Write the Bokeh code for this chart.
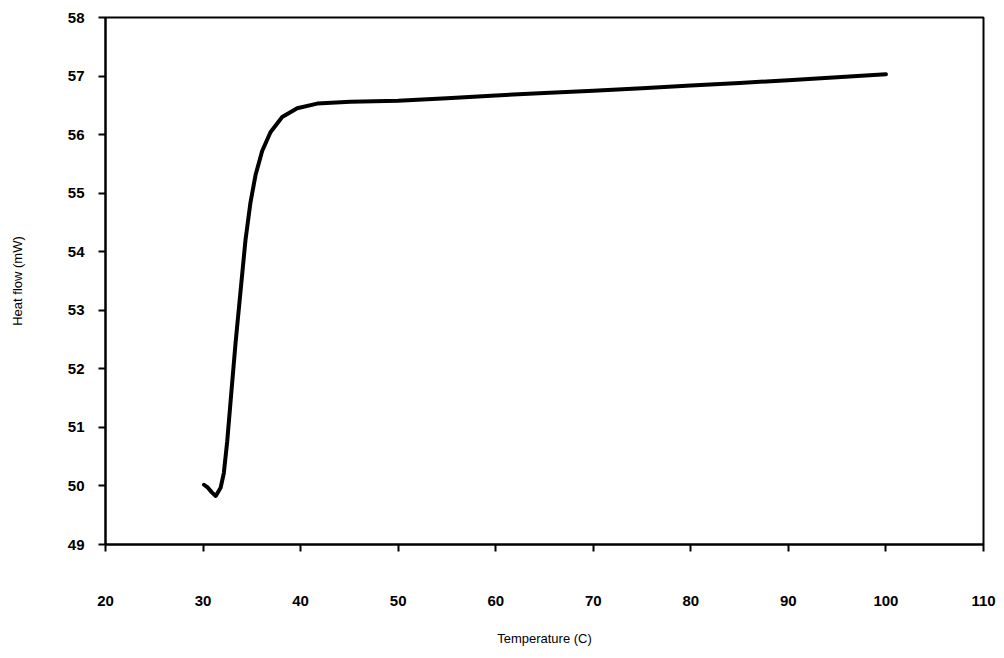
from bokeh.plotting import figure
from bokeh.models import Range1d, FixedTicker
from bokeh.embed import file_html
from bokeh.resources import INLINE

temperature = [30.1, 30.5, 30.9, 31.3, 31.8, 32.13, 32.47, 32.88, 33.33, 33.84, 34.35, 34.86,
               35.38, 36.06, 36.91, 38.11, 39.65, 41.7, 45.1, 50, 55, 60, 65, 70, 75, 80, 85,
               90, 95, 100]
heat_flow = [50.02, 49.97, 49.89, 49.83, 49.97, 50.22, 50.75, 51.56, 52.44, 53.32, 54.2, 54.84,
             55.31, 55.72, 56.04, 56.3, 56.45, 56.53, 56.56, 56.58, 56.62, 56.67, 56.71, 56.75,
             56.79, 56.84, 56.88, 56.93, 56.98, 57.03]
x_ticks = [20, 30, 40, 50, 60, 70, 80, 90, 100, 110]
y_ticks = [49, 50, 51, 52, 53, 54, 55, 56, 57, 58]

p = figure(width=996, height=648, output_backend="svg", toolbar_location=None,
           x_range=Range1d(20, 110), y_range=Range1d(49, 58),
           min_border_left=105, min_border_right=13, min_border_top=17, min_border_bottom=101)
p.background_fill_color = "white"
p.border_fill_color = "white"
p.outline_line_color = "black"
p.outline_line_width = 2
p.xgrid.visible = False
p.ygrid.visible = False

p.line(temperature, heat_flow, line_color="black", line_width=4, line_join="round", line_cap="round")

font = "Liberation Sans"
for ax in (p.xaxis[0], p.yaxis[0]):
    ax.axis_line_color = "black"
    ax.axis_line_width = 2
    ax.major_tick_line_color = "black"
    ax.major_tick_line_width = 2
    ax.major_tick_in = 0
    ax.major_tick_out = 7
    ax.minor_tick_line_color = None
    ax.major_label_text_font = font
    ax.major_label_text_font_style = "bold"
    ax.major_label_text_font_size = "15px"
    ax.major_label_text_color = "black"
    ax.axis_label_text_font = font
    ax.axis_label_text_font_style = "normal"
    ax.axis_label_text_font_size = "13px"
    ax.axis_label_text_color = "black"

p.xaxis[0].ticker = FixedTicker(ticks=x_ticks)
p.yaxis[0].ticker = FixedTicker(ticks=y_ticks)
p.xaxis[0].axis_label = "Temperature (C)"
p.yaxis[0].axis_label = "Heat flow (mW)"
p.xaxis[0].major_label_standoff = 44
p.xaxis[0].axis_label_standoff = 22
p.yaxis[0].major_label_standoff = 14
p.yaxis[0].axis_label_standoff = 40

open("out.html", "w").write(file_html(p, INLINE))
